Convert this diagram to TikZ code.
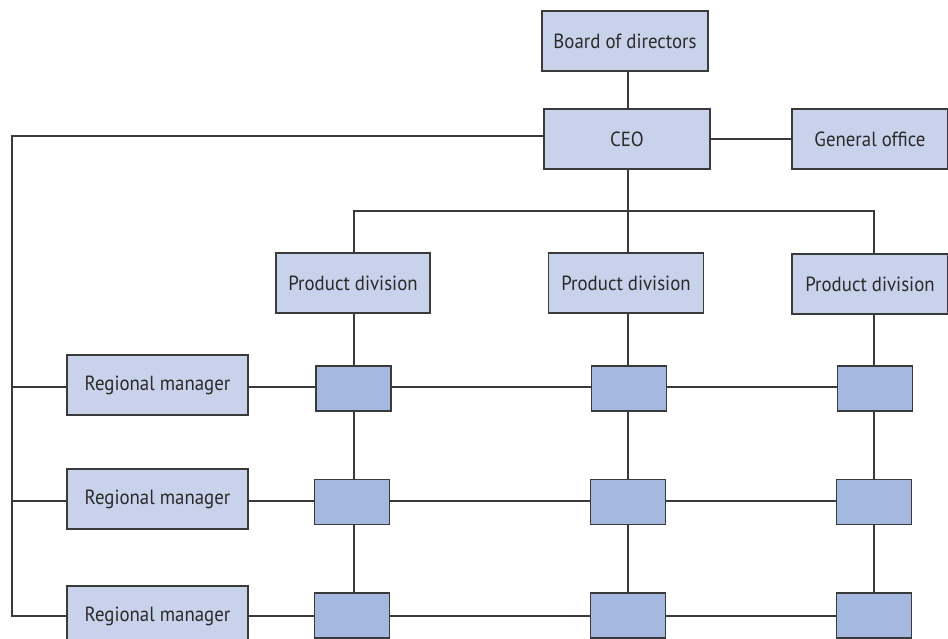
\documentclass[tikz,border=0pt]{standalone}
\usepackage{fontspec}
\setmainfont[FakeStretch=0.92]{PT Sans}
\definecolor{boxfill}{HTML}{C8D2EA}
\definecolor{cellfill}{HTML}{A5B8DF}
\definecolor{edge}{HTML}{3A3A3A}
\definecolor{ink}{HTML}{2A2A2A}
\begin{document}
\begin{tikzpicture}[x=1pt,y=-1pt,
  unitbox/.style={draw=edge, line width=1.2pt, fill=boxfill, inner sep=0pt,
    minimum height=60pt, text=ink, font=\fontsize{20.5}{22}\selectfont},
  cell/.style={draw=edge, line width=1.2pt, fill=cellfill, inner sep=0pt,
    minimum width=75pt, minimum height=45pt},
  link/.style={draw=edge, line width=1.3pt}]
\useasboundingbox (0,0) rectangle (948,639);
\clip (0,0) rectangle (948,639);

% top of the hierarchy
\node[unitbox, minimum width=166pt] (board) at (625,41) {Board of directors};
\node[unitbox, minimum width=166pt] (ceo) at (627,139) {CEO};
\node[unitbox, minimum width=156pt] (office) at (870,139) {General office};

% product divisions
\node[unitbox, minimum width=154pt] (pd1) at (353,283) {Product division};
\node[unitbox, minimum width=155pt] (pd2) at (626,283) {Product division};
\node[unitbox, minimum width=156pt] (pd3) at (870,284) {Product division};

% regional managers
\node[unitbox, minimum width=181pt] (rm1) at (157.5,385) {Regional manager};
\node[unitbox, minimum width=181pt] (rm2) at (157.5,499) {Regional manager};
\node[unitbox, minimum width=181pt] (rm3) at (157.5,616) {Regional manager};

% matrix cells
\node[cell] (c11) at (353.5,388.5) {};
\node[cell] (c12) at (629,388.5) {};
\node[cell] (c13) at (875,388.5) {};
\node[cell] (c21) at (352,502) {};
\node[cell] (c22) at (628,502) {};
\node[cell] (c23) at (874,502) {};
\node[cell] (c31) at (352,615.5) {};
\node[cell] (c32) at (628,615.5) {};
\node[cell] (c33) at (874,615.5) {};

% bus points
\coordinate (bus) at (628,211);
\coordinate (lefttop) at (12,136);
\coordinate (leftbot) at (12,616);

% board and CEO
\draw[link] (board.south -| bus) -- (ceo.north -| bus);
\draw[link] (ceo.east) -- (office.west);
% CEO to product divisions
\draw[link] (ceo.south -| bus) -- (pd2.north -| bus);
\draw[link] (pd1.north -| 354,0) |- (bus) -| (pd3.north -| 874,0);
% CEO to regional managers
\draw[link] (ceo.west |- lefttop) -- (lefttop) -- (leftbot) -- (rm3.west |- leftbot);
\draw[link] (lefttop |- 0,387) -- (rm1.west |- 0,387);
\draw[link] (lefttop |- 0,501) -- (rm2.west |- 0,501);
% matrix rows
\draw[link] (rm1.east |- 0,387) -- (c11.west |- 0,387);
\draw[link] (c11.east |- 0,387) -- (c12.west |- 0,387);
\draw[link] (c12.east |- 0,387) -- (c13.west |- 0,387);
\draw[link] (rm2.east |- 0,501) -- (c21.west |- 0,501);
\draw[link] (c21.east |- 0,501) -- (c22.west |- 0,501);
\draw[link] (c22.east |- 0,501) -- (c23.west |- 0,501);
\draw[link] (rm3.east |- 0,616) -- (c31.west |- 0,616);
\draw[link] (c31.east |- 0,616) -- (c32.west |- 0,616);
\draw[link] (c32.east |- 0,616) -- (c33.west |- 0,616);
% matrix columns
\draw[link] (pd1.south -| 354,0) -- (c11.north -| 354,0);
\draw[link] (c11.south -| 354,0) -- (c21.north -| 354,0);
\draw[link] (c21.south -| 354,0) -- (c31.north -| 354,0);
\draw[link] (pd2.south -| 628,0) -- (c12.north -| 628,0);
\draw[link] (c12.south -| 628,0) -- (c22.north -| 628,0);
\draw[link] (c22.south -| 628,0) -- (c32.north -| 628,0);
\draw[link] (pd3.south -| 874,0) -- (c13.north -| 874,0);
\draw[link] (c13.south -| 874,0) -- (c23.north -| 874,0);
\draw[link] (c23.south -| 874,0) -- (c33.north -| 874,0);
\end{tikzpicture}
\end{document}
